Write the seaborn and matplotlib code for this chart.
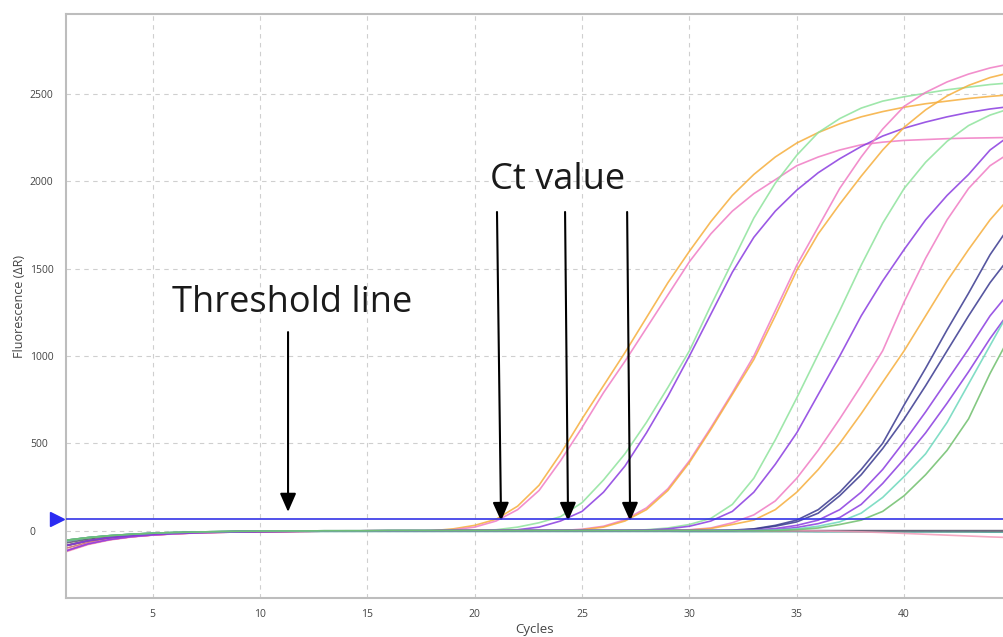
import matplotlib
matplotlib.use("Agg")
import matplotlib.pyplot as plt
import seaborn as sns
import pandas as pd

# qPCR amplification plot: fluorescence (dR) per cycle
cycles = list(range(1, 46))
threshold = 68

base_low = [-115, -76, -51, -35, -25, -18, -13, -10, -8, -6, -5, -4, -3, -3, -2,
            -2, -2, -1, -1, -1, -1, 0, 0, 0, 0, 0, 0, 0, 0, 0,
            0, 0, 0, 0, 0, 0, 0, 0, 0, 0, 0, 0, 0, 0, 0]
base_mid = [-85, -58, -40, -28, -20, -14, -10, -8, -6, -5, -4, -3, -2, -2, -1,
            -1, -1, -1, 0, 0, 0, 0, 0, 0, 0, 0, 0, 0, 0, 0,
            0, 0, 0, 0, 0, 0, 0, 0, 0, 0, 0, 0, 0, 0, 0]
base_high = [-55, -40, -29, -21, -15, -11, -8, -6, -4, -3, -2, -2, -1, -1, -1,
             0, 0, 0, 0, 0, 0, 0, 0, 0, 0, 0, 0, 0, 0, 0,
             0, 0, 0, 0, 0, 0, 0, 0, 0, 0, 0, 0, 0, 0, 0]

# non-amplifying wells
neg_drift = [-120, -80, -54, -37, -26, -19, -14, -10, -8, -6, -5, -4, -3, -3, -2,
             -2, -2, -1, -1, -1, -1, -1, -1, -1, -1, -1, -1, -1, -1, -1,
             -1, -1, -1, -1, -1, -2, -4, -7, -11, -16, -21, -26, -31, -36, -40]
neg_teal = [-60, -44, -32, -24, -18, -14, -11, -9, -8, -7, -6, -6, -5, -5, -5,
            -5, -5, -5, -5, -5, -5, -5, -5, -5, -5, -5, -5, -5, -5, -6,
            -6, -6, -6, -6, -6, -7, -7, -7, -7, -8, -8, -8, -8, -9, -9]
neg_dark = [-70, -50, -36, -26, -19, -14, -10, -7, -5, -4, -3, -2, -2, -1, -1,
            -1, 0, 0, 0, 0, 0, 0, 0, 0, 0, 0, 0, 0, 0, 0,
            0, 0, 0, 0, 0, 0, 0, 0, 0, 0, 0, 0, 0, 0, 0]
neg_brown = [-100, -68, -46, -32, -23, -17, -12, -9, -7, -5, -4, -3, -3, -2, -2,
             -2, -2, -2, -2, -2, -2, -2, -2, -2, -2, -2, -2, -2, -2, -2,
             -2, -3, -3, -3, -3, -3, -3, -4, -4, -4, -4, -5, -5, -5, -5]

# amplified wells: values from the start of the rise up to cycle 45
orange21 = [10, 30, 65, 140, 260, 440, 640, 830, 1020, 1220, 1420, 1600, 1770, 1920, 2040,
            2140, 2220, 2280, 2330, 2370, 2400, 2425, 2445, 2460, 2475, 2487, 2497]
pink21 = [5, 20, 55, 120, 230, 400, 590, 790, 970, 1160, 1350, 1540, 1700, 1830, 1930,
          2010, 2090, 2140, 2180, 2210, 2225, 2235, 2240, 2245, 2248, 2250, 2252]
green24 = [5, 20, 45, 80, 160, 290, 440, 620, 820, 1030, 1290, 1540, 1790, 1990, 2150,
           2280, 2360, 2420, 2460, 2485, 2505, 2525, 2540, 2555, 2565]
purple24 = [5, 20, 55, 110, 220, 370, 560, 770, 1000, 1240, 1480, 1680, 1830, 1950, 2050,
            2130, 2200, 2260, 2305, 2340, 2370, 2395, 2415, 2430]
pink27 = [8, 25, 62, 130, 240, 400, 590, 790, 1000, 1260, 1520, 1740, 1960, 2140, 2300,
          2430, 2510, 2570, 2615, 2650, 2675]
orange27 = [5, 20, 55, 120, 230, 390, 580, 780, 980, 1230, 1490, 1700, 1870, 2030, 2180,
            2310, 2410, 2490, 2550, 2595, 2625]
green30 = [5, 15, 35, 70, 150, 300, 520, 760, 1010, 1260, 1520, 1760, 1960, 2110, 2230,
           2320, 2380, 2420]
purple31 = [3, 10, 25, 55, 110, 220, 380, 560, 780, 1000, 1230, 1430, 1610, 1780, 1920,
            2040, 2180, 2270]
pink32 = [5, 15, 45, 90, 170, 300, 460, 640, 830, 1030, 1310, 1560, 1780, 1960, 2090, 2170]
orange33 = [3, 12, 35, 60, 120, 220, 350, 500, 670, 850, 1030, 1230, 1430, 1610, 1780, 1920]
navy35 = [3, 10, 30, 60, 120, 220, 350, 500, 720, 930, 1150, 1360, 1580, 1760]
navy35b = [8, 25, 50, 100, 200, 320, 470, 640, 830, 1030, 1230, 1420, 1580]
purple36 = [3, 12, 30, 60, 120, 220, 350, 510, 680, 860, 1040, 1230, 1380]
purple36b = [5, 18, 40, 75, 150, 270, 410, 560, 730, 910, 1100, 1270]
cyan37 = [3, 10, 25, 50, 100, 190, 310, 440, 620, 840, 1060, 1280]
green38 = [5, 15, 35, 60, 110, 200, 320, 460, 640, 900, 1130]

ORANGE = "#f6ae3c"
PINK = "#f07cc4"
LGREEN = "#8ee39c"
PURPLE = "#8a3ce0"
NAVY = "#39398f"
CYAN = "#6cd8bc"
GREEN = "#6fbf6c"

wells = {
    "neg_brown": (neg_brown, "#c86a6a"),
    "neg_teal": (neg_teal, "#4aa59c"),
    "neg_dark": (neg_dark, "#55556e"),
    "neg_drift": (neg_drift, "#f49ab8"),
    "orange21": (base_low[:18] + orange21, ORANGE),
    "pink21": (base_low[:18] + pink21, PINK),
    "green24": (base_high[:20] + green24, LGREEN),
    "purple24": (base_mid[:21] + purple24, PURPLE),
    "pink27": (base_low[:24] + pink27, PINK),
    "orange27": (base_mid[:24] + orange27, ORANGE),
    "green30": (base_high[:27] + green30, LGREEN),
    "purple31": (base_mid[:27] + purple31, PURPLE),
    "pink32": (base_low[:29] + pink32, PINK),
    "orange33": (base_mid[:29] + orange33, ORANGE),
    "navy35": (base_mid[:31] + navy35, NAVY),
    "navy35b": (base_high[:32] + navy35b, NAVY),
    "purple36": (base_low[:32] + purple36, PURPLE),
    "purple36b": (base_mid[:33] + purple36b, PURPLE),
    "cyan37": (base_high[:33] + cyan37, CYAN),
    "green38": (base_high[:34] + green38, GREEN),
}

rows = []
for name, (vals, col) in wells.items():
    for c, v in zip(cycles, vals):
        rows.append({"well": name, "cycle": c, "fluor": v})
df = pd.DataFrame(rows)
palette = {name: col for name, (vals, col) in wells.items()}

sns.set_theme(style="white")
plt.rcParams["font.family"] = ["Open Sans", "DejaVu Sans"]

fig = plt.figure(figsize=(10.04, 6.37), dpi=100)
ax = fig.add_axes([66 / 1004, 1 - 598 / 637, 1 - 66 / 1004, (598 - 14) / 637])

sns.lineplot(data=df, x="cycle", y="fluor", hue="well", palette=palette,
             estimator=None, sort=False, legend=False, linewidth=1.2, alpha=0.85, ax=ax)

ax.axhline(threshold, color="#3434e6", lw=1.2, zorder=5)
ax.plot([0.55], [threshold], marker=">", ms=10, color="#2b2bf2", clip_on=False, zorder=6)

ax.set_xlim(0.97, 44.65)
ax.set_ylim(-386, 2959)
ax.set_xticks([5, 10, 15, 20, 25, 30, 35, 40])
ax.set_yticks([0, 500, 1000, 1500, 2000, 2500])
ax.grid(True, color="#cfcfcf", lw=0.8, linestyle=(0, (4, 4)))
ax.tick_params(length=0, labelsize=7.5, labelcolor="#444444")
ax.tick_params(axis="x", pad=8)
ax.tick_params(axis="y", pad=26)
for lab in ax.get_yticklabels():
    lab.set_horizontalalignment("left")
for s in ["left", "bottom", "top"]:
    ax.spines[s].set_color("#bdbdbd")
    ax.spines[s].set_linewidth(1.5)
ax.spines["right"].set_visible(False)

ax.set_xlabel("Cycles", fontsize=9.5, color="#444444", labelpad=2)
ax.set_ylabel("Fluorescence (ΔR)", fontsize=9, color="#444444", labelpad=3)

# annotations
ax.text(5.9, 1303, "Threshold line", fontsize=26, color="#1a1a1a", va="center", ha="left")
ax.text(20.7, 2008, "Ct value", fontsize=26, color="#1a1a1a", va="center", ha="left")

arrow = dict(arrowstyle="-|>,head_length=0.8,head_width=0.35", color="black",
             lw=1.5, mutation_scale=14, shrinkA=0, shrinkB=0)
ax.annotate("", xy=(11.31, 107), xytext=(11.31, 1137), arrowprops=arrow)
for x0, x1 in [(21.04, 21.23), (24.21, 24.35), (27.1, 27.24)]:
    ax.annotate("", xy=(x1, 55), xytext=(x0, 1825), arrowprops=arrow)

fig.savefig("out.png", dpi=100)
